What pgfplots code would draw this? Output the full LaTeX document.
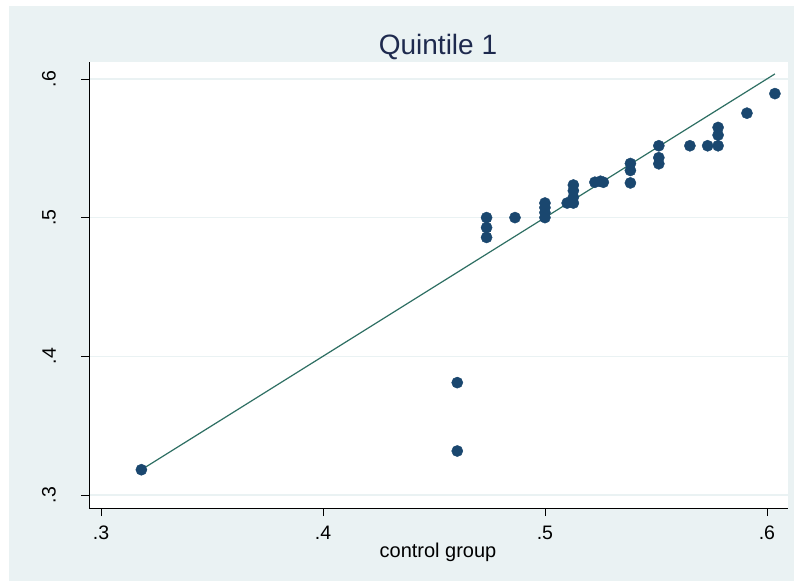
\documentclass[border=0pt]{standalone}
\usepackage{fontspec}
\setmainfont{Liberation Sans}
\usepackage{pgfplots}
\pgfplotsset{compat=1.18}
\definecolor{bgc}{HTML}{EAF2F3}
\definecolor{mk}{HTML}{1A476F}
\definecolor{ln}{HTML}{2E6F63}
\definecolor{tt}{HTML}{1E2A4E}
\begin{document}
\begin{tikzpicture}[x=1pt,y=1pt]
\useasboundingbox (0,0) rectangle (794,581);
\fill[white] (0,0) rectangle (794,581);
\fill[bgc] (9,0) rectangle (794,575);
\begin{axis}[at={(89pt,73pt)}, anchor=south west, scale only axis,
  width=699pt, height=446pt,
  xmin=0.2946, xmax=0.6095, ymin=0.2906, ymax=0.6122,
  axis lines*=left,
  axis background/.style={fill=white},
  axis line style={black, line width=0.8pt},
  xtick={0.3,0.4,0.5,0.6}, xticklabels={.3,.4,.5,.6},
  ytick={0.3,0.4,0.5,0.6}, yticklabels={.3,.4,.5,.6},
  tick align=outside, major tick length=8pt,
  tick style={black, line width=0.8pt},
  ymajorgrids, grid style={bgc, line width=1.5pt},
  /pgf/number format/assume math mode=true,
  xticklabel style={font=\fontsize{19.5}{22}\selectfont, inner sep=0pt, yshift=-10pt},
  yticklabel style={font=\fontsize{19.5}{22}\selectfont, xshift=-25pt, rotate=90, anchor=south, inner sep=0pt},
]
\addplot[only marks, mark=*, mark size=5.6pt, mark options={fill=mk, draw=mk}] coordinates {
(0.3182,0.3182)
(0.4605,0.3810)
(0.4605,0.3317)
(0.4737,0.5000)
(0.4737,0.4928)
(0.4737,0.4857)
(0.4865,0.5000)
(0.5000,0.5000)
(0.5000,0.5036)
(0.5000,0.5072)
(0.5000,0.5105)
(0.5100,0.5105)
(0.5128,0.5105)
(0.5128,0.5147)
(0.5128,0.5194)
(0.5128,0.5235)
(0.5225,0.5255)
(0.5250,0.5262)
(0.5263,0.5255)
(0.5385,0.5250)
(0.5385,0.5340)
(0.5385,0.5390)
(0.5513,0.5388)
(0.5513,0.5432)
(0.5513,0.5518)
(0.5653,0.5518)
(0.5733,0.5518)
(0.5780,0.5518)
(0.5780,0.5595)
(0.5780,0.5650)
(0.5910,0.5753)
(0.6036,0.5894)
};
\addplot[ln, line width=1.2pt] coordinates {(0.3182,0.3182) (0.6036,0.6036)};
\end{axis}
\node[tt, anchor=base, font=\fontsize{28}{31}\selectfont] at (438,526) {Quintile 1};
\node[black, anchor=base, font=\fontsize{20}{23}\selectfont] at (438,24) {control group};
\end{tikzpicture}
\end{document}
